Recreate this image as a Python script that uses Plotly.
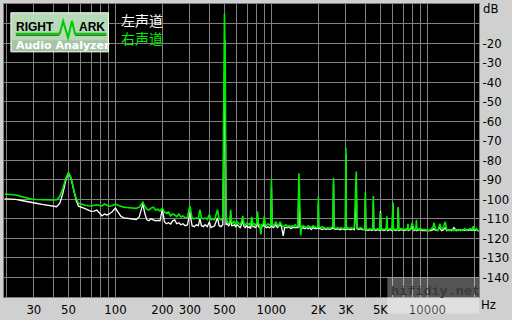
import plotly.graph_objects as go

# ---------------- data ----------------
freq_hz = [
    19.5, 21, 23, 25, 27, 29, 31, 34, 37, 40, 42, 44, 46, 48, 50, 52, 54, 56, 58, 61,
    64, 67, 70, 73, 76, 79, 82, 85, 88, 91, 95, 100, 104, 108, 113, 118, 124, 130, 136, 142,
    147, 150, 154, 159, 164, 169, 175, 181, 187, 193, 200, 206, 212, 219, 226, 233, 240, 247, 255, 263,
    271, 280, 290, 300, 310, 320, 330, 340, 348, 356, 366, 376, 388, 400, 410, 420, 432, 451, 462, 475,
    488, 495, 500, 503, 506, 512, 520, 530, 540, 548, 556, 566, 578, 590, 603, 616, 630, 643, 655, 667,
    680, 694, 708, 722, 735, 748, 760, 775, 790, 805, 815, 826, 840, 855, 870, 888, 900, 912, 930, 950,
    970, 990, 1000, 1010, 1030, 1050, 1070, 1090, 1110, 1137, 1160, 1190, 1215, 1240, 1270, 1300, 1330, 1360, 1390, 1420,
    1450, 1480, 1500, 1520, 1540, 1560, 1600, 1640, 1680, 1720, 1760, 1800, 1850, 1900, 1950, 1990, 2000, 2010, 2060, 2120,
    2180, 2240, 2300, 2360, 2420, 2480, 2500, 2520, 2580, 2650, 2720, 2790, 2860, 2930, 2980, 3000, 3020, 3080, 3160, 3240,
    3320, 3400, 3470, 3500, 3530, 3620, 3720, 3820, 3920, 3980, 4000, 4030, 4150, 4280, 4400, 4480, 4500, 4530, 4650, 4800,
    4950, 5000, 5050, 5250, 5450, 5500, 5550, 5800, 5950, 6000, 6050, 6250, 6450, 6500, 6550, 6800, 7100, 7450, 7500, 7550,
    7800, 8000, 8200, 8450, 8500, 8550, 8900, 9300, 9700, 10100, 10500, 10900, 11000, 11300, 11700, 12000, 12300, 12700, 13000, 13300,
    13800, 14300, 14800, 15300, 15800, 16300, 16800, 17300, 17800, 18300, 18800, 19300, 19700, 20100, 20600, 21000, 21500,
]

right_db = [  # green channel
    -97.3, -97.4, -97.8, -98.6, -99.3, -99.8, -100.1, -100.3, -100.3, -100.3, -100.2, -98.5, -94.5, -89.5, -86.2, -89.0, -95.0, -99.5, -102.0, -102.6,
    -103.0, -103.3, -103.4, -103.0, -102.8, -103.2, -103.4, -102.4, -103.0, -103.5, -103.3, -102.4, -103.0, -103.6, -104.0, -104.2, -104.3, -104.5, -104.6, -104.0,
    -102.5, -101.5, -103.5, -105.0, -105.5, -104.5, -104.0, -105.5, -105.0, -106.0, -104.5, -106.5, -107.0, -106.5, -108.5, -107.5, -108.0, -108.8, -107.5, -109.0,
    -108.5, -109.5, -109.0, -103.3, -109.5, -110.0, -109.5, -110.0, -105.3, -109.5, -110.0, -109.5, -110.2, -107.8, -110.5, -110.0, -110.5, -105.3, -110.0, -110.5,
    -109.5, -46.0, -5.0, -18.7, -32.0, -109.0, -111.0, -112.5, -111.5, -105.3, -111.5, -112.5, -111.0, -113.0, -111.5, -112.5, -113.0, -111.5, -108.5, -112.5,
    -113.5, -112.0, -113.0, -112.5, -113.5, -109.0, -113.0, -112.5, -113.5, -112.0, -106.3, -113.0, -112.5, -118.0, -113.0, -112.5, -108.7, -113.0, -113.5, -112.5,
    -113.0, -113.5, -90.0, -113.0, -113.5, -112.5, -111.5, -113.0, -113.5, -111.5, -113.0, -114.0, -113.5, -113.0, -114.0, -113.5, -114.0, -113.5, -114.0, -113.0,
    -114.0, -113.5, -86.7, -113.5, -118.5, -114.0, -113.5, -114.0, -114.5, -113.5, -114.0, -114.5, -113.5, -114.0, -114.5, -114.0, -98.7, -114.0, -114.5, -114.0,
    -114.5, -115.0, -114.5, -115.0, -114.5, -114.0, -89.0, -114.5, -115.0, -114.5, -115.0, -114.5, -115.0, -114.5, -114.5, -73.5, -115.0, -114.5, -115.0, -114.5,
    -115.0, -114.5, -94.0, -85.8, -114.5, -115.0, -114.5, -115.0, -115.5, -115.0, -96.2, -115.0, -115.5, -115.0, -115.5, -115.0, -98.3, -115.0, -115.5, -115.0,
    -115.5, -107.0, -115.0, -115.5, -115.0, -108.7, -115.5, -115.0, -115.5, -101.5, -115.0, -115.5, -115.0, -104.5, -115.5, -115.0, -115.5, -115.0, -112.5, -115.5,
    -115.0, -112.0, -115.5, -115.0, -110.5, -115.5, -115.0, -115.5, -115.5, -116.0, -115.5, -114.0, -112.0, -115.5, -116.0, -112.5, -115.5, -114.0, -111.5, -115.5,
    -116.0, -115.5, -116.0, -115.5, -116.0, -115.5, -116.0, -115.0, -116.0, -115.5, -115.0, -115.5, -113.8, -115.5, -115.0, -116.0, -116.0,
]

left_db = [  # white channel
    -99.8, -99.8, -100.0, -100.6, -101.0, -101.5, -102.0, -102.6, -103.2, -103.6, -103.8, -102.0, -97.0, -90.5, -86.5, -89.5, -96.0, -100.5, -103.5, -104.0,
    -104.8, -105.5, -106.2, -106.0, -105.5, -107.0, -108.5, -107.5, -108.0, -107.5, -106.5, -104.5, -106.5, -108.5, -109.5, -109.6, -110.0, -110.2, -110.3, -109.0,
    -104.5, -102.3, -107.0, -110.5, -111.0, -110.0, -110.5, -111.0, -110.8, -111.0, -105.0, -111.5, -112.5, -112.0, -112.7, -111.0, -110.5, -112.5, -112.0, -113.0,
    -112.5, -113.5, -113.0, -106.7, -113.5, -114.0, -113.0, -113.5, -110.0, -113.5, -114.0, -113.0, -114.0, -111.5, -114.5, -114.0, -113.5, -109.5, -113.5, -114.0,
    -113.0, -70.0, -40.0, -18.6, -60.0, -113.0, -112.5, -113.5, -113.0, -108.0, -113.5, -113.5, -113.0, -114.0, -113.0, -114.0, -114.5, -113.0, -111.0, -114.0,
    -114.5, -113.5, -114.5, -114.0, -115.0, -112.0, -114.0, -114.0, -114.5, -113.5, -109.0, -114.0, -114.5, -115.0, -114.0, -113.5, -111.0, -114.0, -114.5, -114.0,
    -114.5, -114.0, -94.0, -114.0, -114.5, -113.5, -113.0, -114.5, -114.0, -113.0, -114.0, -118.7, -114.5, -114.5, -114.5, -114.0, -115.0, -114.5, -114.5, -114.5,
    -114.5, -114.5, -91.0, -114.0, -115.0, -115.0, -114.5, -115.0, -114.5, -115.0, -114.5, -115.5, -114.5, -115.0, -115.0, -114.5, -102.0, -115.0, -115.0, -115.5,
    -115.0, -115.5, -115.0, -115.5, -115.0, -115.0, -92.0, -115.0, -115.5, -115.0, -115.5, -115.5, -115.0, -115.5, -115.0, -77.0, -115.5, -115.0, -115.5, -115.5,
    -115.0, -115.5, -105.0, -89.0, -115.0, -115.5, -115.0, -115.5, -115.5, -115.5, -99.0, -115.5, -116.0, -115.5, -116.0, -115.5, -101.0, -115.5, -116.0, -115.5,
    -116.0, -106.0, -115.5, -116.0, -115.5, -110.0, -116.0, -115.5, -116.0, -102.0, -115.5, -116.0, -115.5, -104.0, -116.0, -115.5, -116.0, -115.5, -113.5, -116.0,
    -115.5, -114.0, -116.0, -115.5, -113.0, -116.0, -115.5, -116.0, -116.0, -116.0, -116.0, -115.5, -115.0, -116.0, -115.5, -114.5, -116.0, -115.5, -114.5, -116.0,
    -115.5, -116.0, -114.5, -116.0, -115.5, -116.0, -115.5, -116.0, -115.5, -116.0, -115.5, -116.0, -115.5, -116.0, -115.5, -116.0, -116.0,
]

x_tick_vals = [20, 30, 40, 50, 60, 70, 80, 90, 100, 200, 300, 400, 500, 600, 700, 800, 900,
               1000, 2000, 3000, 4000, 5000, 6000, 7000, 8000, 9000, 10000, 20000]
x_tick_text = ["", "30", "", "50", "", "", "", "", "100", "200", "300", "", "500", "", "", "", "",
               "1000", "2K", "3K", "", "5K", "", "", "", "", "10000", ""]
y_tick_vals = [-10, -20, -30, -40, -50, -60, -70, -80, -90, -100, -110, -120, -130, -140]
y_tick_text = ["", "-20", "-30", "-40", "-50", "-60", "-70", "-80", "-90", "-100", "-110",
               "-120", "-130", "-140"]
legend_left = "左声道"
legend_right = "右声道"

# ---------------- figure ----------------
W_FIG, H_FIG = 512, 320
ML, MR, MT, MB = 3, 27, 3, 17
PW, PH = W_FIG - ML - MR, H_FIG - MT - MB


def px(x):
    return (x - ML) / PW


def py(y):
    return 1 - (y - MT) / PH


GRID = "#808080"
GREEN = "#00ee00"
AXFONT = dict(family="Liberation Sans Narrow, Arial Narrow, DejaVu Sans Condensed, sans-serif",
              size=13, color="#000000")

fig = go.Figure()
fig.add_trace(go.Scatter(x=freq_hz, y=left_db, mode="lines",
                         line=dict(color="#ffffff", width=1.3), hoverinfo="skip"))
fig.add_trace(go.Scatter(x=freq_hz, y=right_db, mode="lines",
                         line=dict(color=GREEN, width=1.6), hoverinfo="skip"))

fig.update_xaxes(type="log", range=[1.2857, 4.3306],
                 tickvals=x_tick_vals, ticktext=x_tick_text,
                 showgrid=True, gridcolor=GRID, gridwidth=1,
                 showline=True, linecolor=GRID, linewidth=1, mirror=True,
                 ticks="", tickfont=AXFONT, zeroline=False)
fig.update_yaxes(range=[-150, 0], side="right",
                 tickvals=y_tick_vals, ticktext=y_tick_text,
                 showgrid=True, gridcolor=GRID, gridwidth=1,
                 showline=True, linecolor=GRID, linewidth=1, mirror=True,
                 ticks="", tickfont=AXFONT, zeroline=False)

shapes = [
    # logo box
    dict(type="rect", xref="paper", yref="paper", x0=px(10), x1=px(109), y0=py(52), y1=py(12),
         fillcolor="#b6d9b6", line=dict(color="#ffffff", width=1), layer="above"),
    dict(type="rect", xref="paper", yref="paper", x0=px(11), x1=px(108), y0=py(51), y1=py(40),
         fillcolor="#a6c3a6", line=dict(width=0), layer="above"),
    # dark shadow line under the green trace
    dict(type="path", xref="paper", yref="paper", layer="above",
         path=f"M {px(15)},{py(35)} L {px(59)},{py(35)} M {px(75)},{py(35)} L {px(107)},{py(35)}",
         line=dict(color="#1a4a1a", width=1)),
    # green zigzag 'M'
    dict(type="path", xref="paper", yref="paper", layer="above",
         path=(f"M {px(15)},{py(33.5)} L {px(59.5)},{py(33.5)} L {px(63)},{py(20.5)} "
               f"L {px(68)},{py(37.5)} L {px(72)},{py(20.5)} L {px(75)},{py(33.5)} "
               f"L {px(107)},{py(33.5)}"),
         line=dict(color="#00c800", width=2)),
    # watermark box
    dict(type="rect", xref="paper", yref="paper", x0=px(392), x1=px(485), y0=py(320), y1=py(283),
         fillcolor="rgba(255,255,255,0.33)", line=dict(width=0), layer="above"),
]

legend_html = (f"<span style='color:#ffffff'>{legend_left}</span><br>"
               f"<span style='color:{GREEN}'>{legend_right}</span>")

ann = [
    dict(text="<b>RIGHT</b>", x=px(14.5), y=py(26.5), xanchor="left", yanchor="middle",
         font=dict(family="Liberation Sans, Arial", size=12, color="#000000")),
    dict(text="<b>ARK</b>", x=px(78), y=py(26.5), xanchor="left", yanchor="middle",
         font=dict(family="Liberation Sans, Arial", size=12, color="#000000")),
    dict(text="<b>Audio Analyzer</b>", x=px(62.5), y=py(46), xanchor="center", yanchor="middle",
         font=dict(family="DejaVu Sans, Verdana", size=11, color="#ffffff")),
    dict(text=legend_html, x=px(121), y=py(29), xanchor="left", yanchor="middle", align="left",
         font=dict(family="Noto Sans CJK SC", size=14, color="#ffffff")),
    dict(text="dB", x=px(488), y=py(7.5), xanchor="left", yanchor="middle", font=AXFONT),
    dict(text="Hz", x=px(486), y=py(311), xanchor="left", yanchor="middle", font=AXFONT),
    dict(text="<b>hifidiy.net</b>", x=px(395), y=py(297), xanchor="left", yanchor="middle",
         font=dict(family="Liberation Mono, Courier New, monospace", size=13.5, color="#3a3a3a")),
]
for a in ann:
    a.update(xref="paper", yref="paper", showarrow=False, borderpad=0)

fig.update_layout(width=W_FIG, height=H_FIG, autosize=False,
                  margin=dict(l=ML, r=MR, t=MT, b=MB, pad=0),
                  paper_bgcolor="#d0d0d0", plot_bgcolor="#000000",
                  showlegend=False, shapes=shapes, annotations=ann)

fig.write_html("out.html")
